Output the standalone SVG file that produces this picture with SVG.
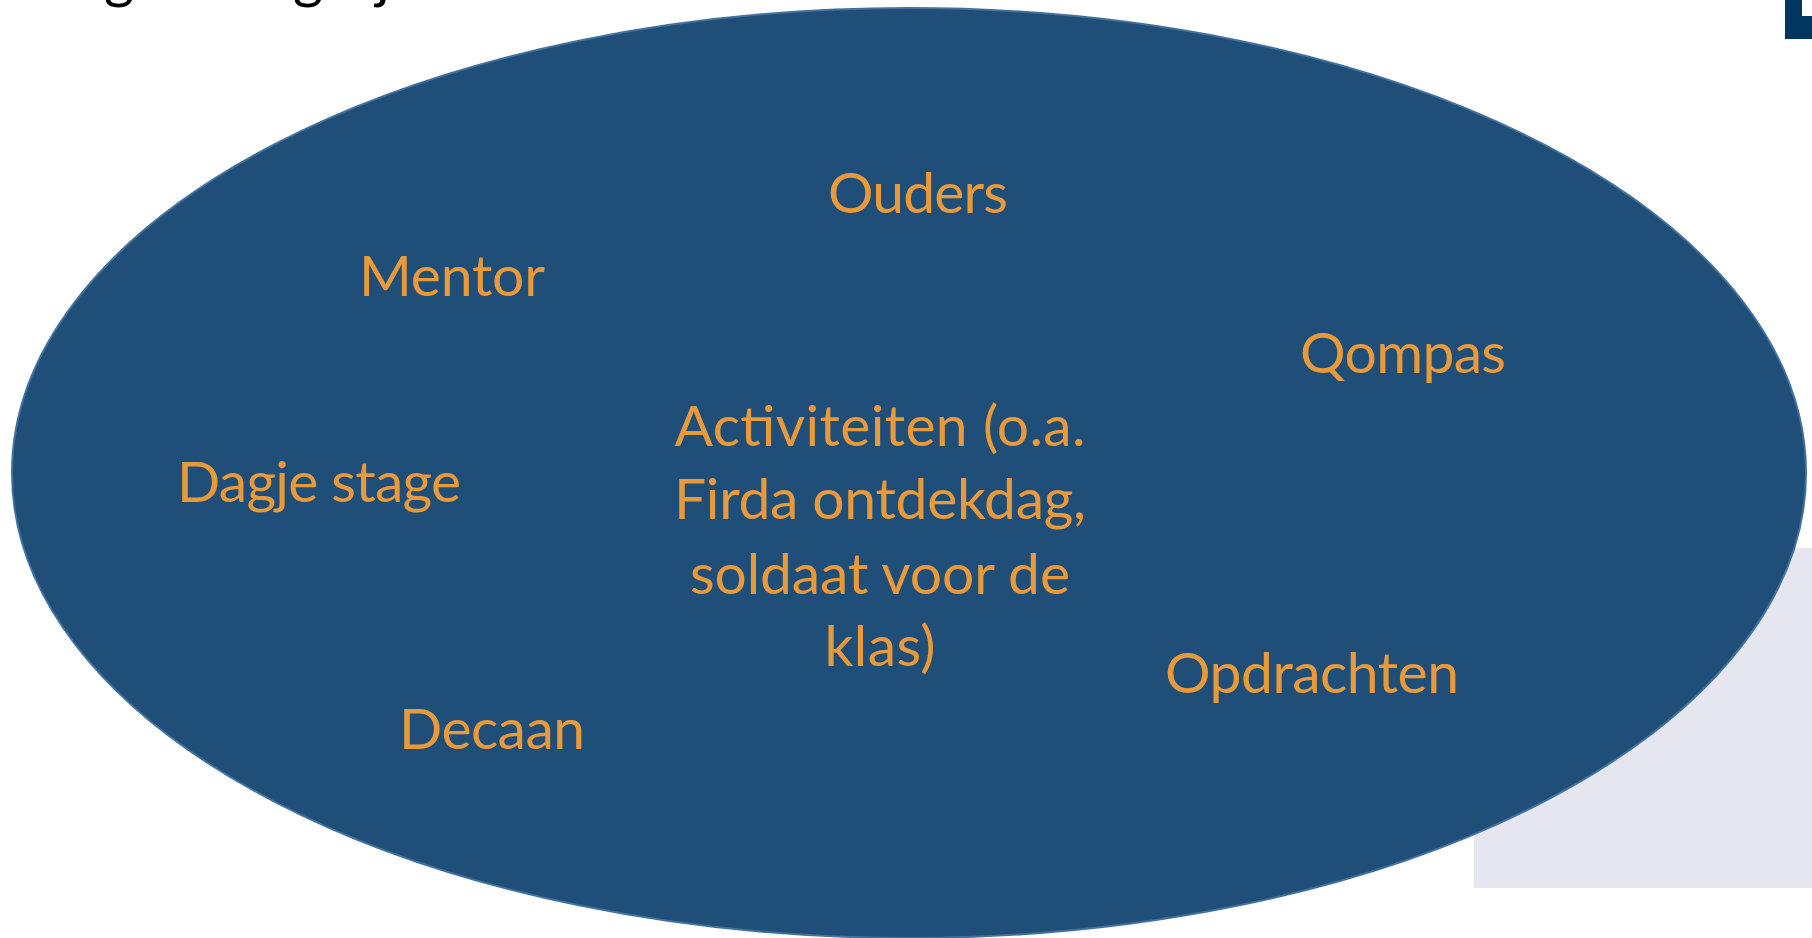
<svg xmlns="http://www.w3.org/2000/svg" width="1812" height="938" viewBox="0 0 1812 938">
  <style>
    .lbl { font-family: Lato, "Open Sans", "Liberation Sans", sans-serif; font-size: 57px; fill: #E8993A; text-anchor: middle; }
    .title { font-family: Lato, "Liberation Sans", sans-serif; font-size: 58px; fill: #000000; }
  </style>
  <rect width="1812" height="938" fill="#FFFFFF"/>
  <g id="title-fragment">
    <text class="title" x="104" y="-3">g</text>
    <text class="title" x="293" y="-3">g</text>
    <text class="title" x="376" y="-3">j</text>
  </g>
  <g id="corner-mark">
    <path d="M1785 0 H1802 V16 H1812 V39 H1785 Z" fill="#003660"/>
  </g>
  <g id="grey-panel">
    <rect x="1474" y="548" width="338" height="340" fill="#E6E6F0"/>
  </g>
  <g id="ellipse">
    <ellipse cx="909" cy="473" rx="897" ry="465" fill="#1F4E79" stroke="#41719C" stroke-width="2"/>
  </g>
  <g id="connectors"></g>
  <g id="node-ouders"><text class="lbl" x="918" y="213" textLength="180">Ouders</text></g>
  <g id="node-mentor"><text class="lbl" x="452" y="296" textLength="186">Mentor</text></g>
  <g id="node-qompas"><text class="lbl" x="1403" y="373" textLength="206">Qompas</text></g>
  <g id="node-dagje-stage"><text class="lbl" x="319" y="502" textLength="284">Dagje stage</text></g>
  <g id="node-activiteiten">
    <text class="lbl" x="880" y="446" textLength="411">Activiteiten (o.a.</text>
    <text class="lbl" x="880" y="519" textLength="412">Firda ontdekdag,</text>
    <text class="lbl" x="880" y="594" textLength="380">soldaat voor de</text>
    <text class="lbl" x="880" y="666" textLength="111">klas)</text>
  </g>
  <g id="node-opdrachten"><text class="lbl" x="1312" y="693" textLength="294">Opdrachten</text></g>
  <g id="node-decaan"><text class="lbl" x="492" y="749" textLength="186">Decaan</text></g>
</svg>
